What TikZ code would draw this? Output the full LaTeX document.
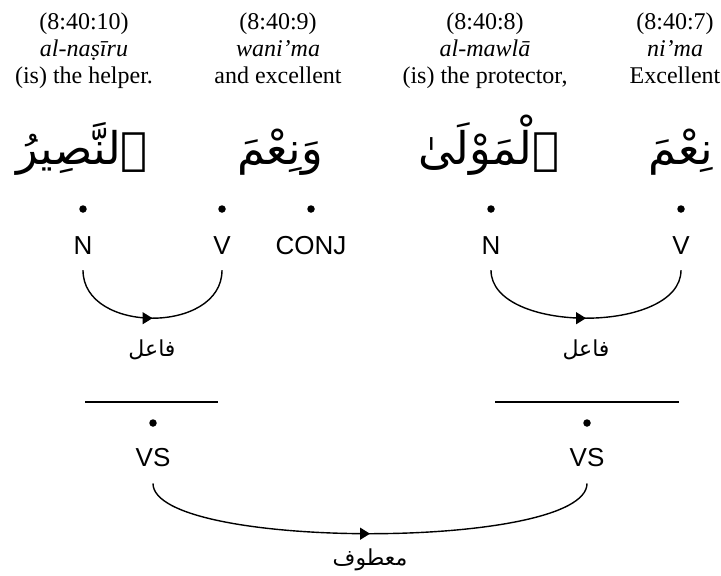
\documentclass[tikz,border=0pt]{standalone}
\usepackage{fontspec}
\setmainfont{Liberation Serif}
\newfontfamily\tagfont{Liberation Sans}
\newfontfamily\arabicfont[Script=Arabic]{DejaVu Sans}
\TeXXeTstate=1
\usetikzlibrary{decorations.markings,arrows.meta}

\begin{document}
\begin{tikzpicture}[x=1pt,y=-1pt,
  glossbox/.style={align=center,font=\fontsize{24}{27}\selectfont,inner sep=0pt,anchor=north},
  arword/.style={font=\arabicfont\fontsize{45}{50}\selectfont,inner sep=0pt,anchor=base},
  postag/.style={font=\tagfont\fontsize{26}{30}\selectfont,inner sep=0pt,anchor=base},
  relword/.style={font=\arabicfont\fontsize{22}{26}\selectfont,inner sep=0pt},
  wdot/.style={circle,fill=black,inner sep=0pt,minimum size=7.5pt},
  relarc/.style={line width=1.4pt,postaction={decorate},
    decoration={markings,mark=at position 0.5 with {\arrow{Triangle[length=10pt,width=12pt]}}}},
  phrasebar/.style={line width=1.5pt}]
\useasboundingbox (0,0) rectangle (721,576);

% verse references, transliterations and translations
\node[glossbox] (g1) at (84,13) {(8:40:10)\\\textit{al-naṣīru}\\(is) the helper.};
\node[glossbox] (g2) at (278,13) {(8:40:9)\\\textit{wani’ma}\\and excellent};
\node[glossbox] (g3) at (485,13) {(8:40:8)\\\textit{al-mawlā}\\(is) the protector,};
\node[glossbox] (g4) at (675,13) {(8:40:7)\\\textit{ni’ma}\\Excellent};

% Arabic words
\node[arword] (w1) at (82,164) {\beginR ٱلنَّصِيرُ\endR};
\node[arword] (w2) at (280,164) {\beginR وَنِعْمَ\endR};
\node[arword] (w3) at (489,164) {\beginR ٱلْمَوْلَىٰ\endR};
\node[arword] (w4) at (681,164) {\beginR نِعْمَ\endR};

% segment dots and part-of-speech tags
\node[wdot] (d1) at (83,209) {};
\node[wdot] (d2) at (222,209) {};
\node[wdot] (d3) at (311,209) {};
\node[wdot] (d4) at (491,209) {};
\node[wdot] (d5) at (681,209) {};
\node[postag] (t1) at (83,254) {N};
\node[postag] (t2) at (222,254) {V};
\node[postag] (t3) at (311,254) {CONJ};
\node[postag] (t4) at (491,254) {N};
\node[postag] (t5) at (681,254) {V};

% subject relations
\draw[relarc] ([yshift=-16pt]t1.south) .. controls +(0,64) and +(0,64) .. ([yshift=-16pt]t2.south);
\draw[relarc] ([yshift=-16pt]t4.south) .. controls +(0,64) and +(0,64) .. ([yshift=-16pt]t5.south);
\node[relword] (r1) at (152,350) {\beginR فاعل\endR};
\node[relword] (r2) at (586,350) {\beginR فاعل\endR};

% verbal sentence phrases
\coordinate (b1l) at (85,402);
\coordinate (b1r) at (218,402);
\coordinate (b2l) at (495,402);
\coordinate (b2r) at (679,402);
\draw[phrasebar] (b1l) -- (b1r);
\draw[phrasebar] (b2l) -- (b2r);
\node[wdot] (d6) at (153,423) {};
\node[wdot] (d7) at (587,423) {};
\node[postag] (t6) at (153,466) {VS};
\node[postag] (t7) at (587,466) {VS};

% coordination relation
\draw[relarc] ([yshift=-17pt]t6.south) .. controls +(0,67) and +(0,67) .. ([yshift=-17pt]t7.south);
\node[relword] (r3) at (370,560) {\beginR معطوف\endR};
\end{tikzpicture}
\end{document}
